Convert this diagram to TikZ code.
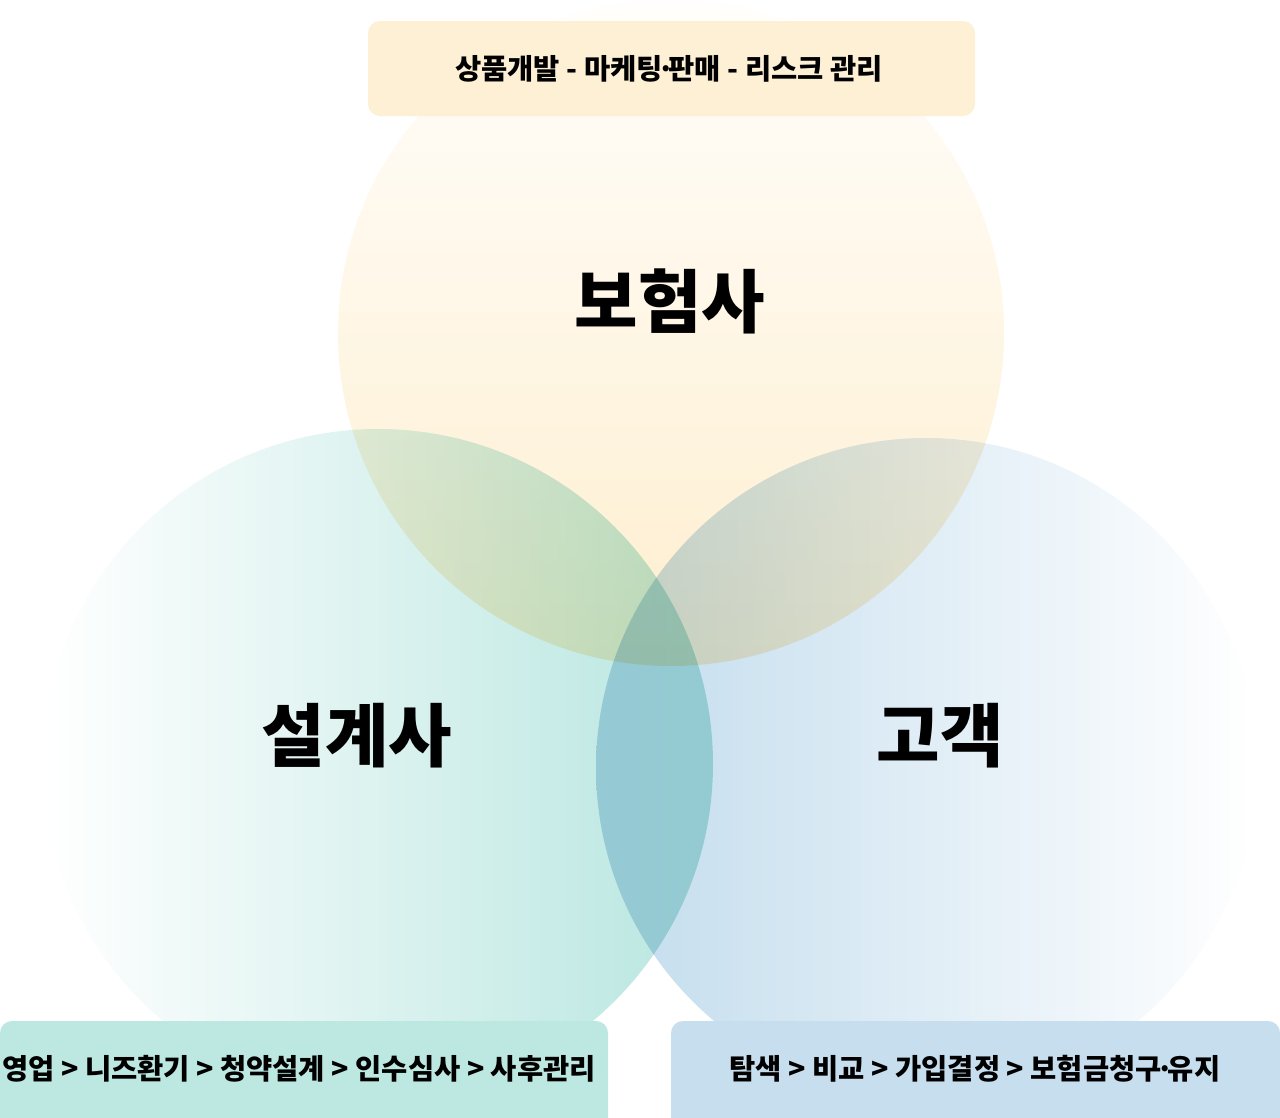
\documentclass[tikz,border=0pt]{standalone}
\usepackage{fontspec}
\setmainfont{Noto Sans CJK KR}
\definecolor{ytop}{RGB}{255,254,252}
\definecolor{ybot}{RGB}{254,238,206}
\definecolor{tealc}{RGB}{184,230,224}
\definecolor{bluec}{RGB}{194,220,237}
\definecolor{ybox}{RGB}{253,240,213}
\definecolor{tbox}{RGB}{189,232,226}
\definecolor{bbox}{RGB}{198,222,237}
\newcommand{\mdot}{\kern-0.2em·\kern-0.2em}
\tikzset{
  biglabel/.style={font=\bfseries\fontsize{69}{72}\selectfont, text=black},
  smalllabel/.style={font=\bfseries\fontsize{28.5}{31}\selectfont, text=black}
}
\begin{document}
\begin{tikzpicture}[x=1pt,y=-1pt]
\useasboundingbox (0,0) rectangle (1280,1117);
\fill[white] (0,0) rectangle (1280,1117);
\begin{scope}[blend group=multiply]
  \shade[top color=ytop, bottom color=ybot] (671,333) circle (333);
  \shade[left color=white, right color=tealc] (378,764) circle (335);
  \shade[left color=bluec, right color=white] (926,768) circle (330);
\end{scope}
% boxes
\fill[ybox, rounded corners=12pt] (368,21) rectangle (975,116);
\fill[tbox, rounded corners=12pt] (0,1021) rectangle (608,1130);
\fill[bbox, rounded corners=12pt] (671,1021) rectangle (1280,1130);
\node[smalllabel] (top) at (669,69) {상품개발 - 마케팅\mdot 판매 - 리스크 관리};
\node[smalllabel] (bl) at (299,1069) {영업 > 니즈환기 > 청약설계 > 인수심사 > 사후관리};
\node[smalllabel] (br) at (975,1069) {탐색 > 비교 > 가입결정 > 보험금청구\mdot 유지};
\node[biglabel] (ins) at (670,301) {보험사};
\node[biglabel] (pl) at (357,736) {설계사};
\node[biglabel] (cu) at (940,736) {고객};
\end{tikzpicture}
\end{document}
